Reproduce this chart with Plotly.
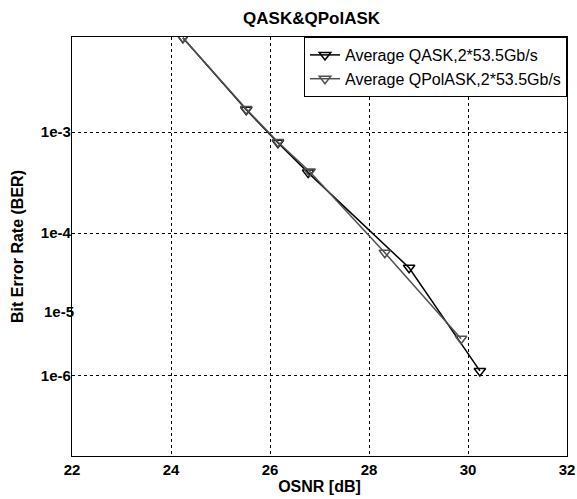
import numpy as np
import plotly.graph_objects as go

# ---- data ----
osnr_qask = [24.24, 25.52, 26.16, 26.77, 28.81, 30.24]
ber_qask = [5.1e-3, 1.53e-3, 8.1e-4, 4.3e-4, 3.85e-5, 1.2e-6]

osnr_qpolask = [24.24, 25.52, 26.16, 26.80, 28.32, 29.86]
ber_qpolask = [5.1e-3, 1.55e-3, 8.2e-4, 4.4e-4, 5.9e-5, 3.95e-6]

series_names = ["Average QASK,2*53.5Gb/s", "Average QPolASK,2*53.5Gb/s"]

x_ticks = [22, 24, 26, 28, 30, 32]
y_grid_ticks = [1e-3, 1e-4, 1e-6]
y_grid_labels = ["1e-3", "1e-4", "1e-6"]
y_plain_ticks = [1e-5]
y_plain_labels = ["1e-5"]
ber_limits = [2.86e-8, 5.15e-3]
x_limits = [22, 32]


def ber_scale(b):
    """BER axis: log10(-log10(BER)), drawn reversed (high BER on top)."""
    return np.log10(-np.log10(np.asarray(b, dtype=float)))


FONT = "Liberation Sans, Arial, sans-serif"
y_range = list(ber_scale(ber_limits))  # [bottom, top]

fig = go.Figure()
fig.add_trace(go.Scatter(
    x=osnr_qask, y=ber_scale(ber_qask), name=series_names[0],
    mode="lines+markers",
    line=dict(color="#000000", width=1.5),
    marker=dict(symbol="triangle-down-open", size=10, color="#000000",
                line=dict(width=1.5)),
))
fig.add_trace(go.Scatter(
    x=osnr_qpolask, y=ber_scale(ber_qpolask), name=series_names[1],
    mode="lines+markers",
    line=dict(color="#505050", width=1.5),
    marker=dict(symbol="triangle-down-open", size=10, color="#505050",
                line=dict(width=1.5)),
))
# invisible trace to carry the secondary (label-only) BER axis
fig.add_trace(go.Scatter(x=[None], y=[None], yaxis="y2", showlegend=False,
                         hoverinfo="skip"))

tickfont = dict(family=FONT, size=15, color="black", weight="bold")

fig.update_layout(
    width=577, height=499,
    margin=dict(l=72, r=10, t=37, b=43, autoexpand=False),
    paper_bgcolor="white", plot_bgcolor="white",
    title=dict(text="<b>QASK&QPolASK</b>", x=0.54, xanchor="center",
               y=1 - 18 / 499, yanchor="middle", yref="container",
               font=dict(family=FONT, size=17, color="black")),
    xaxis=dict(
        range=x_limits, tickvals=x_ticks, ticktext=[str(v) for v in x_ticks],
        showgrid=True, gridcolor="black", griddash="3px,3px", gridwidth=1,
        showline=True, linecolor="black", linewidth=1.3, mirror=True,
        ticks="", zeroline=False, tickfont=tickfont, automargin=False,
        title=dict(text="<b>OSNR [dB]</b>", standoff=3,
                   font=dict(family=FONT, size=16, color="black")),
    ),
    yaxis=dict(
        range=y_range, tickvals=list(ber_scale(y_grid_ticks)),
        ticktext=y_grid_labels,
        showgrid=True, gridcolor="black", griddash="3px,3px", gridwidth=1,
        showline=True, linecolor="black", linewidth=1.3, mirror=True,
        ticks="", zeroline=False, tickfont=tickfont, automargin=False,
        ticklabelstandoff=-3,
        title=dict(text="<b>Bit Error Rate (BER)</b>", standoff=13,
                   font=dict(family=FONT, size=16, color="black")),
    ),
    yaxis2=dict(
        overlaying="y", side="left", anchor="x",
        range=y_range, tickvals=list(ber_scale(y_plain_ticks)),
        ticktext=y_plain_labels, showgrid=False, zeroline=False,
        showline=False, ticks="", tickfont=tickfont, automargin=False,
        ticklabelstandoff=-3,
    ),
    legend=dict(
        x=1, xanchor="right", y=1, yanchor="top",
        bgcolor="white", bordercolor="black", borderwidth=1,
        font=dict(family=FONT, size=16, color="black"),
        tracegroupgap=0, itemwidth=30,
    ),
    showlegend=True,
)

fig.write_html("out.html", config={"displayModeBar": False},
               post_script="document.body.style.margin='0';")
